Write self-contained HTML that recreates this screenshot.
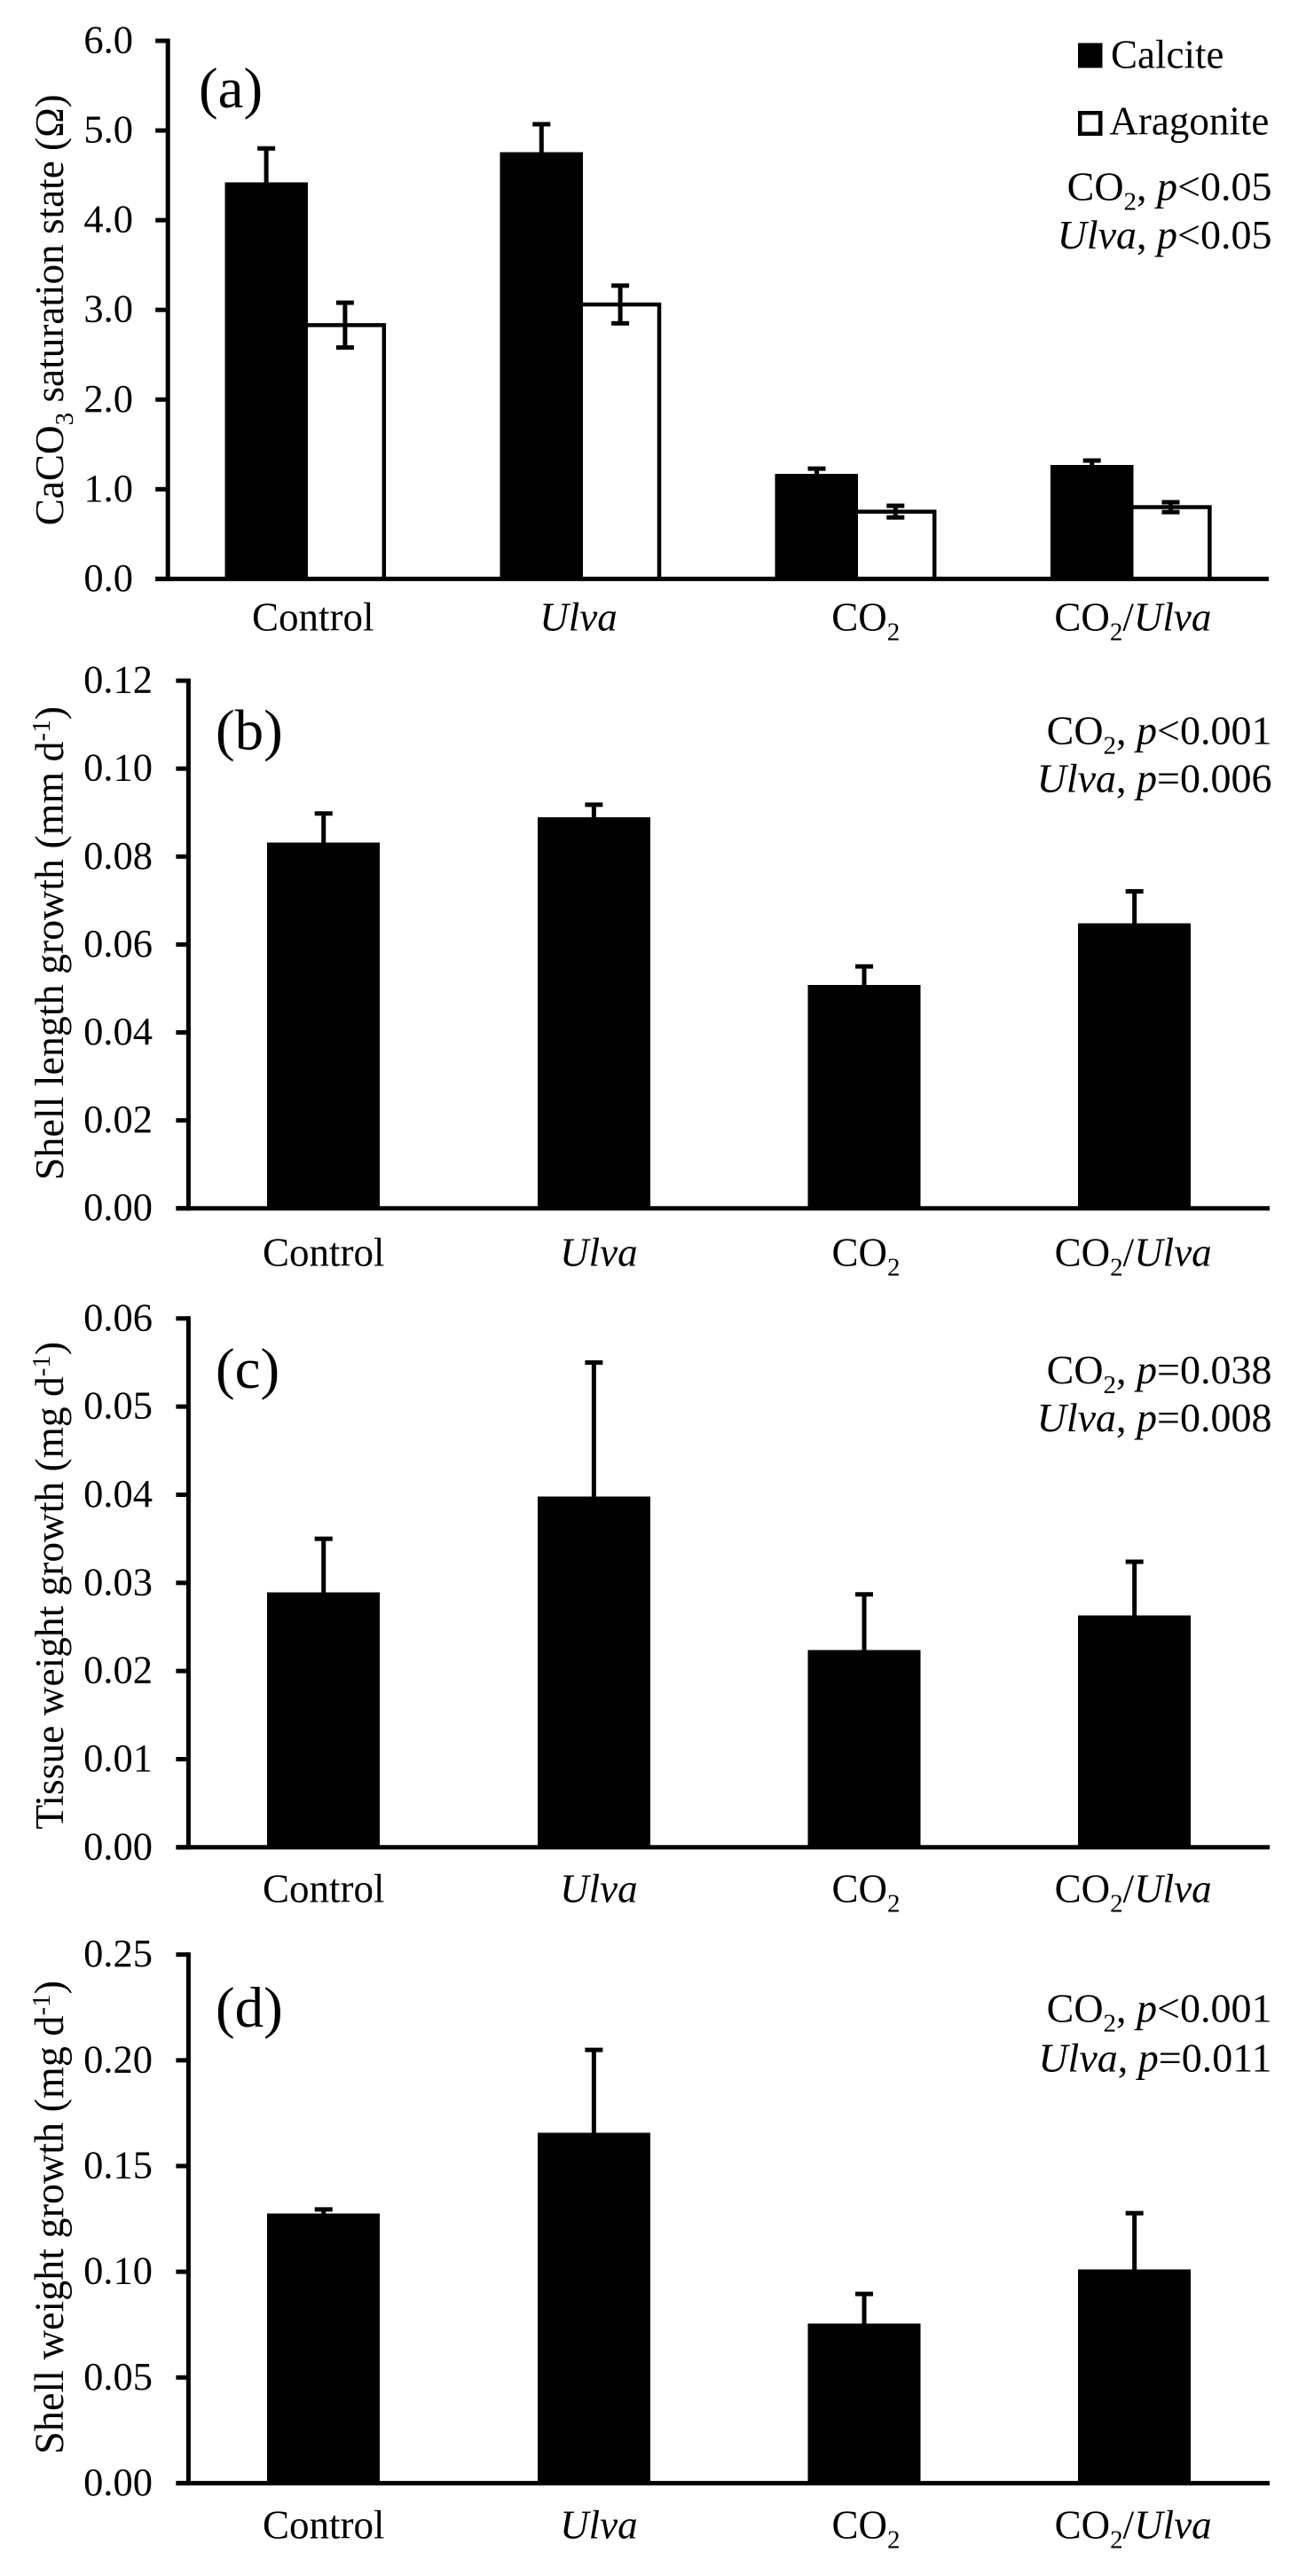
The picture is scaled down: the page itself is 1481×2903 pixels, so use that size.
<!DOCTYPE html>
<html lang="en">
<head>
<meta charset="utf-8">
<title>CaCO3 saturation state and growth charts</title>
<style>
html,body{margin:0;padding:0;background:#fff;}
svg{display:block;}
text{font-family:"Liberation Serif",serif;fill:#000;}
</style>
</head>
<body>
<svg id="figure" xmlns="http://www.w3.org/2000/svg" width="1481" height="2903" viewBox="0 0 1481 2903">
<rect x="0" y="0" width="1481" height="2903" fill="#fff"/>
</svg>
<script>
// ---- Data ----
const categories = ['Control', 'Ulva', 'CO2', 'CO2/Ulva'];

const ticksA = ['0.0', '1.0', '2.0', '3.0', '4.0', '5.0', '6.0'];
const calciteValues = [4.42, 4.76, 1.17, 1.27];
const calciteErrors = [0.38, 0.31, 0.06, 0.05];
const aragoniteValues = [2.83, 3.06, 0.75, 0.80];
const aragoniteErrors = [0.25, 0.21, 0.065, 0.055];

const ticksB = ['0.00', '0.02', '0.04', '0.06', '0.08', '0.10', '0.12'];
const shellLengthValues = [0.0832, 0.0889, 0.0508, 0.0648];
const shellLengthErrors = [0.0066, 0.0029, 0.0042, 0.0073];

const ticksC = ['0.00', '0.01', '0.02', '0.03', '0.04', '0.05', '0.06'];
const tissueWeightValues = [0.0289, 0.0398, 0.0224, 0.0263];
const tissueWeightErrors = [0.0061, 0.0152, 0.0063, 0.0061];

const ticksD = ['0.00', '0.05', '0.10', '0.15', '0.20', '0.25'];
const shellWeightValues = [0.1275, 0.1657, 0.0755, 0.1010];
const shellWeightErrors = [0.0020, 0.0392, 0.0140, 0.0267];

// ---- Drawing ----
const NS = 'http://www.w3.org/2000/svg';
const svg = document.getElementById('figure');
const FONT = 45;
const STAT_FONT = 46;
const TICK_FONT = 44.5;
const SUB = 29;
const RIGHT_TEXT = 1433.5;

function make(tag, attrs, parent) {
  const node = document.createElementNS(NS, tag);
  for (const k in attrs) node.setAttribute(k, attrs[k]);
  (parent || svg).appendChild(node);
  return node;
}
function sub(s) {
  return '<tspan font-size="' + SUB + '" dy="11">' + s + '</tspan><tspan dy="-11">\u200b</tspan>';
}
function sup(s) {
  return '<tspan font-size="' + SUB + '" dy="-15">' + s + '</tspan><tspan dy="15">\u200b</tspan>';
}
function it(s) {
  return '<tspan font-style="italic">' + s + '</tspan>';
}
function categoryMarkup(c) {
  if (c === 'Control') return 'Control';
  if (c === 'Ulva') return it('Ulva');
  if (c === 'CO2') return 'CO' + sub('2');
  return 'CO' + sub('2') + '/' + it('Ulva');
}
function labelText(markup, x, y, size, anchor, parent) {
  const t = make('text', {x: x, y: y, 'font-size': size, 'text-anchor': anchor}, parent);
  t.innerHTML = markup;
  return t;
}

function drawPanel(p) {
  const g = make('g', {});
  
  

  const yScale = v => p.y0 + (p.yTop - p.y0) * (v / p.max);
  const band = (p.xEnd - p.xAxis) / categories.length;
  const xCenter = i => p.xAxis + band * (i + 0.5);

  // y axis ticks and labels
  p.ticks.forEach(label => {
    const y = yScale(parseFloat(label));
    const tick = make('line', {x1: p.xAxis - 14, x2: p.xAxis, y1: y, y2: y, stroke: '#000', 'stroke-width': 5}, g);
    
    
    const tl = labelText(label, p.tickRight, y + 13.5, TICK_FONT, 'end', g);
    
    
  });

  // series
  categories.forEach((cat, i) => {
    const c = xCenter(i);
    p.series.forEach(s => {
      const left = c + s.left;
      const right = left + s.width;
      const mid = c + s.err;
      const top = yScale(s.values[i]);
      let bar;
      if (s.hollow) {
        bar = make('path', {d: 'M' + left + ' ' + top + 'H' + right + 'V' + p.y0, fill: 'none', stroke: '#000', 'stroke-width': 4.5}, g);
      } else {
        bar = make('rect', {x: left, y: top, width: s.width, height: p.y0 - top, fill: '#000', 'shape-rendering': 'crispEdges'}, g);
      }
      
      

      const hi = yScale(s.values[i] + s.errors[i]);
      const lo = yScale(s.values[i] - s.errors[i]);
      const eb = make('path', {
        d: 'M' + mid + ' ' + hi + 'V' + lo + 'M' + (mid - 10) + ' ' + hi + 'H' + (mid + 10) + 'M' + (mid - 10) + ' ' + lo + 'H' + (mid + 10),
        fill: 'none', stroke: '#000', 'stroke-width': 5
      }, g);
      
      
    });

    const cl = labelText(categoryMarkup(cat), c + p.labelNudge[i], p.labelY, FONT, 'middle', g);
    
    
  });

  // axes
  const yAxis = make('line', {x1: p.xAxis, x2: p.xAxis, y1: p.yTop - 2.5, y2: p.y0 + 2.5, stroke: '#000', 'stroke-width': 5}, g);
  
  
  const xAxis = make('line', {x1: p.xAxis - 14, x2: p.xEnd, y1: p.y0, y2: p.y0, stroke: '#000', 'stroke-width': 5}, g);
  
  

  // y title
  const title = make('text', {
    'font-size': p.titleFont, 'text-anchor': 'start',
    transform: 'translate(71 ' + p.titleStart + ') rotate(-90)'
  }, g);
  title.innerHTML = p.title;
  
  

  // panel letter
  const letter = labelText(p.letter, p.letterX, p.letterY, 65, 'start', g);
  
  

  // stats
  const s1 = labelText(p.stat1, RIGHT_TEXT, p.statY1, STAT_FONT, 'end', g);
  
  
  const s2 = labelText(p.stat2, RIGHT_TEXT, p.statY2, STAT_FONT, 'end', g);
  
  
}

const nudgeAxisA = [8.5, -2.5, 11, 2];
const nudgeAxisRest = [0, 5.5, 2, -1.5];
const P = it('p');

drawPanel({
  id: 'a', letter: '(a)', max: 6, ticks: ticksA,
  xAxis: 189.2, xEnd: 1430, y0: 652.4, yTop: 46, tickRight: 150,
  labelY: 710.6, labelNudge: nudgeAxisA, titleStart: 592.3, titleFont: 45.2, letterX: 224, letterY: 121,
  title: 'CaCO' + sub('3') + ' saturation state (\u03a9)',
  stat1: 'CO' + sub('2') + ', ' + P + '&lt;0.05', stat2: it('Ulva') + ', ' + P + '&lt;0.05',
  statY1: 225.4, statY2: 280.2,
  series: [
    {name: 'calcite', values: calciteValues, errors: calciteErrors, left: -91, width: 93.5, err: -44.2},
    {name: 'aragonite', values: aragoniteValues, errors: aragoniteErrors, left: 0, width: 88.5, hollow: true, err: 44.6}
  ]
});
drawPanel({
  id: 'b', letter: '(b)', max: 0.12, ticks: ticksB,
  xAxis: 212.4, xEnd: 1431, y0: 1361.7, yTop: 767.1, tickRight: 172,
  labelY: 1426.4, labelNudge: nudgeAxisRest, titleStart: 1330, titleFont: 45.9, letterX: 243, letterY: 844.7,
  title: 'Shell length growth (mm d' + sup('-1') + ')',
  stat1: 'CO' + sub('2') + ', ' + P + '&lt;0.001', stat2: it('Ulva') + ', ' + P + '=0.006',
  statY1: 838.7, statY2: 892.4,
  series: [{name: 'shell-length', values: shellLengthValues, errors: shellLengthErrors, left: -63.5, width: 127, err: 0}]
});
drawPanel({
  id: 'c', letter: '(c)', max: 0.06, ticks: ticksC,
  xAxis: 212.4, xEnd: 1431, y0: 2081.8, yTop: 1485.8, tickRight: 172,
  labelY: 2143.3, labelNudge: nudgeAxisRest, titleStart: 2061.6, titleFont: 45.4, letterX: 243, letterY: 1564,
  title: 'Tissue weight growth (mg d' + sup('-1') + ')',
  stat1: 'CO' + sub('2') + ', ' + P + '=0.038', stat2: it('Ulva') + ', ' + P + '=0.008',
  statY1: 1558.8, statY2: 1613,
  series: [{name: 'tissue-weight', values: tissueWeightValues, errors: tissueWeightErrors, left: -63.5, width: 127, err: 0}]
});
drawPanel({
  id: 'd', letter: '(d)', max: 0.25, ticks: ticksD,
  xAxis: 212.4, xEnd: 1431, y0: 2798.4, yTop: 2202.7, tickRight: 172,
  labelY: 2860.5, labelNudge: nudgeAxisRest, titleStart: 2765.7, titleFont: 46.1, letterX: 243, letterY: 2284,
  title: 'Shell weight growth (mg d' + sup('-1') + ')',
  stat1: 'CO' + sub('2') + ', ' + P + '&lt;0.001', stat2: it('Ulva') + ', ' + P + '=0.011',
  statY1: 2278.5, statY2: 2334.4,
  series: [{name: 'shell-weight', values: shellWeightValues, errors: shellWeightErrors, left: -63.5, width: 127, err: 0}]
});

// legend
const legend = make('g', {});


const swatchCalcite = make('rect', {x: 1215, y: 48.5, width: 27.5, height: 28, fill: '#000'}, legend);


const textCalcite = labelText('Calcite', 1252, 76.6, FONT, 'start', legend);


const swatchAragonite = make('rect', {x: 1217.25, y: 127.25, width: 23, height: 23.5, fill: '#fff', stroke: '#000', 'stroke-width': 4.5}, legend);


const textAragonite = labelText('Aragonite', 1250.4, 151.7, FONT, 'start', legend);


</script>
</body>
</html>
